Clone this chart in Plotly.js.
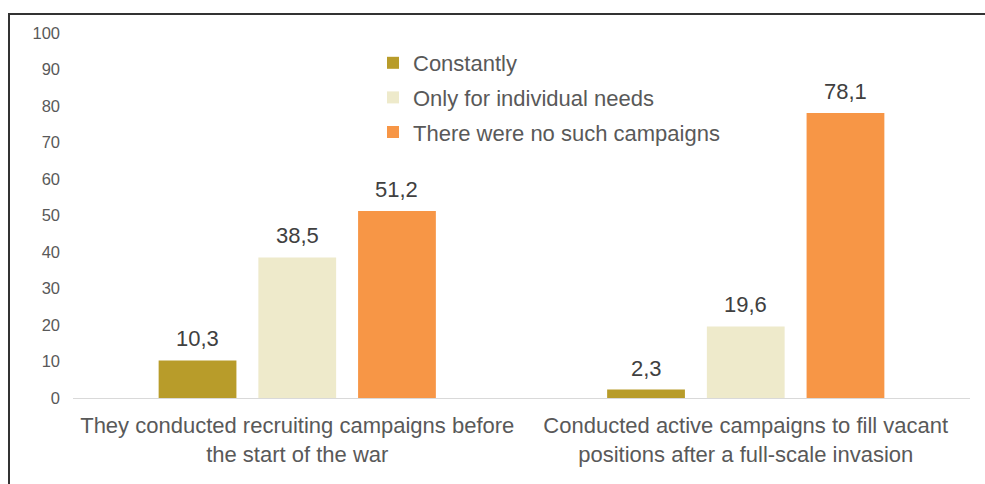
<!DOCTYPE html>
<html>
<head>
<meta charset="utf-8">
<script src="https://cdn.plot.ly/plotly-3.0.1.min.js"></script>
<style>html,body{margin:0;padding:0;background:#fff;}#chart{width:985px;height:484px;}</style>
</head>
<body>
<div id="chart"></div>
<script>
var categories = [
  "They conducted recruiting campaigns before<br>the start of the war",
  "Conducted active campaigns to fill vacant<br>positions after a full-scale invasion"
];
var seriesNames = ["Constantly", "Only for individual needs", "There were no such campaigns"];
var constantly = [10.3, 2.3];
var individualNeeds = [38.5, 19.6];
var noCampaigns = [51.2, 78.1];
var yTicks = [0, 10, 20, 30, 40, 50, 60, 70, 80, 90, 100];

var colors = ["#B89C2A", "#EEEACB", "#F79646"];
var seriesValues = [constantly, individualNeeds, noCampaigns];
var FONT = "Liberation Sans, Arial, sans-serif";

var traces = seriesValues.map(function (vals, i) {
  return {
    type: "bar",
    name: seriesNames[i],
    x: categories,
    y: vals,
    marker: { color: colors[i] },
    legendgroup: "g" + i,
    hoverinfo: "none"
  };
});

// value labels placed above each bar via the axes
var annotations = [];
seriesValues.forEach(function (vals, i) {
  vals.forEach(function (v, j) {
    annotations.push({
      x: categories[j],
      y: v,
      xref: "x",
      yref: "y",
      text: v.toFixed(1).replace(".", ","),
      showarrow: false,
      xshift: (i - 1) * 99.7,
      yanchor: "bottom",
      yshift: 7,
      font: { family: FONT, size: 22, color: "#404040" }
    });
  });
});

function px(x) { return (x - 73) / 897; }
function py(y) { return (398 - y) / 365; }

var layout = {
  width: 985,
  height: 484,
  margin: { l: 73, r: 15, t: 33, b: 86 },
  paper_bgcolor: "#ffffff",
  plot_bgcolor: "#ffffff",
  barmode: "group",
  bargap: 0.333,
  bargroupgap: 0.22,
  font: { family: FONT, color: "#595959" },
  xaxis: {
    tickfont: { size: 22, color: "#595959" },
    showline: true,
    linecolor: "#D9D9D9",
    linewidth: 1,
    ticks: "",
    showgrid: false,
    ticklabelstandoff: 8
  },
  yaxis: {
    range: [0, 100],
    tickvals: yTicks,
    tickfont: { size: 16.5, color: "#595959" },
    showgrid: false,
    zeroline: false,
    showline: false,
    ticks: "",
    ticklabelstandoff: 12
  },
  showlegend: true,
  legend: {
    x: px(373),
    xanchor: "left",
    y: py(42),
    yanchor: "top",
    font: { size: 22, color: "#595959" },
    bgcolor: "rgba(0,0,0,0)",
    traceorder: "grouped",
    tracegroupgap: 3
  },
  annotations: annotations,
  shapes: [
    { type: "line", xref: "paper", yref: "paper", x0: px(8), x1: px(1000), y0: py(14), y1: py(14), line: { color: "#333333", width: 2 } },
    { type: "line", xref: "paper", yref: "paper", x0: px(9), x1: px(9), y0: py(14), y1: py(500), line: { color: "#333333", width: 2 } }
  ]
};

Plotly.newPlot("chart", traces, layout, { displayModeBar: false, staticPlot: true });
</script>
</body>
</html>
